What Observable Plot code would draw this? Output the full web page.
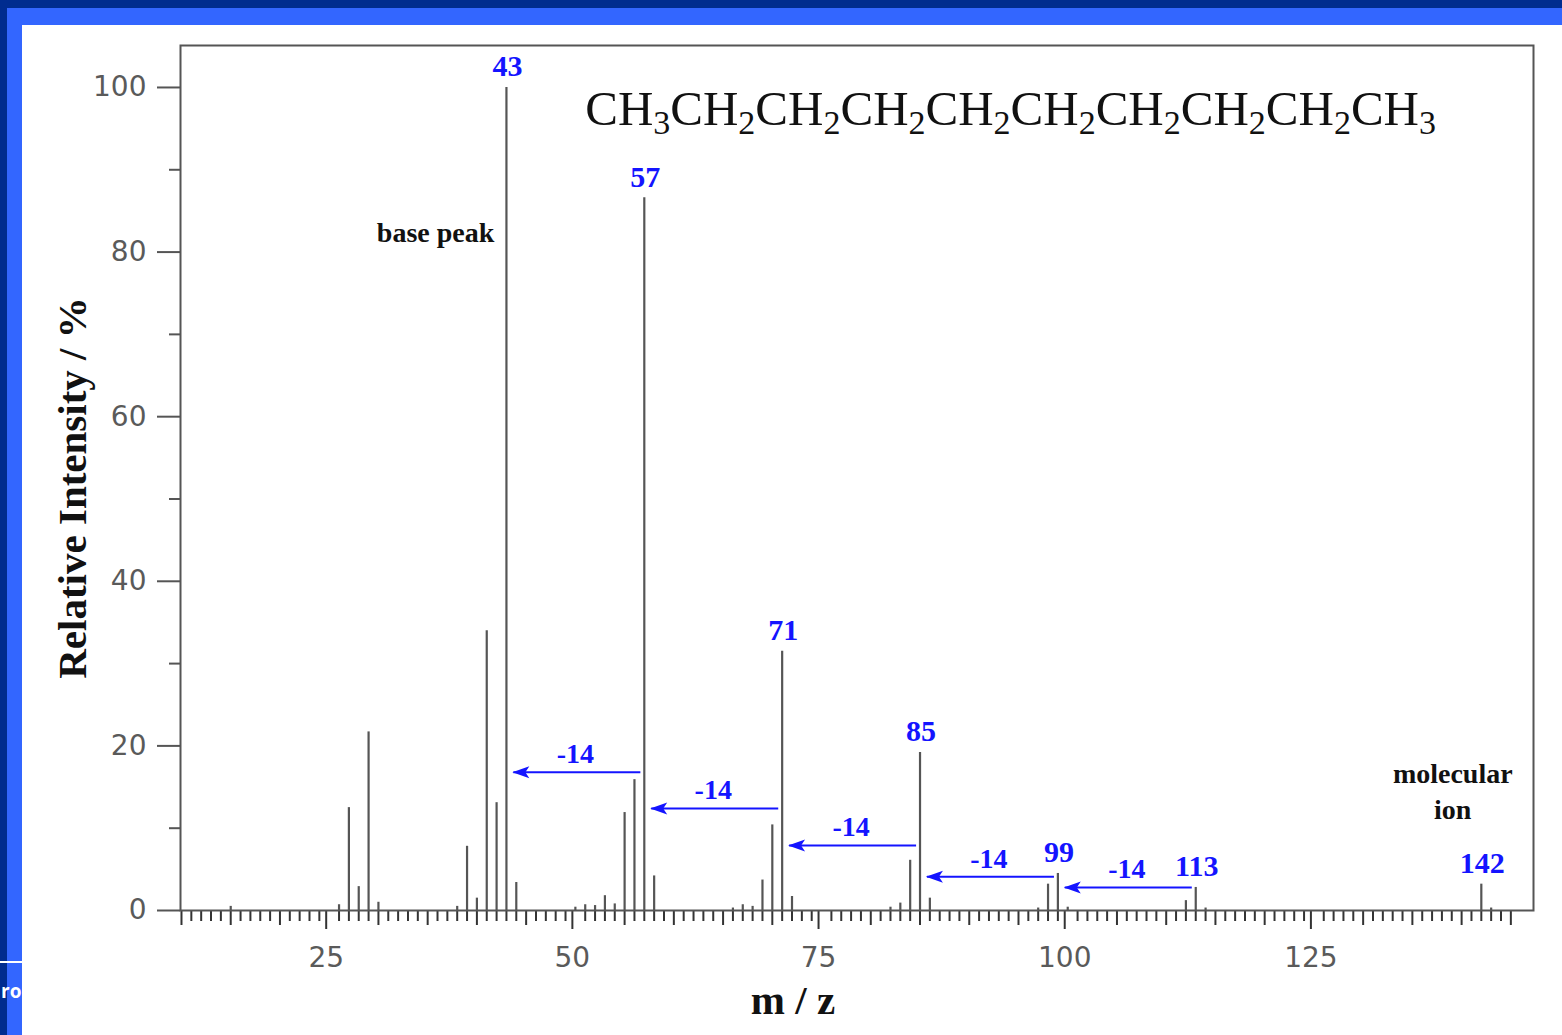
<!DOCTYPE html>
<html>
<head>
<meta charset="utf-8">
<script src="https://cdn.jsdelivr.net/npm/d3@7"></script>
<script src="https://cdn.jsdelivr.net/npm/@observablehq/plot@0.6"></script>
<style>
  html, body { margin: 0; padding: 0; }
  body { width: 1562px; height: 1035px; background: #002c8f; position: relative; overflow: hidden; }
  #band { position: absolute; left: 7px; top: 8px; right: 0; bottom: 0; background: #3366ff; }
  #panel { position: absolute; left: 22px; top: 25px; width: 1540px; height: 1010px; background: #ffffff; }
  #rule { position: absolute; left: 0; top: 961px; width: 22px; height: 2px; background: #ffffff; }
  #frag { position: absolute; left: 1px; top: 978px; font: bold 19px "Open Sans", sans-serif; color: #ffffff; }
</style>
</head>
<body>
<div id="band"></div>
<div id="rule"></div>
<div id="frag">ro</div>
<div id="panel"></div>
<script>
const mz        = [15, 26, 27, 28, 29, 30, 38, 39, 40, 41, 42, 43, 44, 50, 51, 52, 53, 54, 55, 56, 57, 58, 66, 67, 68, 69, 70, 71, 72, 82, 83, 84, 85, 86, 97, 98, 99, 100, 112, 113, 114, 142, 143];
const intensity = [0.5, 0.7, 12.5, 2.9, 21.7, 1.0, 0.5, 7.8, 1.5, 34.0, 13.1, 100, 3.4, 0.4, 0.7, 0.6, 1.8, 0.8, 11.9, 15.9, 86.6, 4.2, 0.3, 0.7, 0.5, 3.7, 10.4, 31.5, 1.7, 0.4, 0.9, 6.1, 19.2, 1.5, 0.3, 3.2, 4.5, 0.4, 1.2, 2.8, 0.3, 3.2, 0.3];

// Labelled peaks
const labelledMz = [43, 57, 71, 85, 99, 113, 142];

// "-14" loss arrows: from peak, to peak, and the intensity level of the arrow
const lossFrom  = [57, 71, 85, 99, 113];
const lossTo    = [43, 57, 71, 85, 99];
const lossLevel = [16.8, 12.4, 7.9, 4.1, 2.8];
const lossText  = "-14";

// Axis ticks
const yMajor = [0, 20, 40, 60, 80, 100];
const yMinor = [10, 30, 50, 70, 90];
const xMajor = [25, 50, 75, 100, 125];

const formula = "CH3CH2CH2CH2CH2CH2CH2CH2CH2CH3";
const yLabel = "Relative Intensity / %";
const xLabel = "m / z";

const peaks = mz.map((m, i) => ({mz: m, I: intensity[i]}));
const labelled = labelledMz.map(m => ({mz: m, I: intensity[mz.indexOf(m)], text: String(m)}));
const losses = lossFrom.map((f, i) => ({from: f, to: lossTo[i], y: lossLevel[i]}));

const xAll = d3.range(10, 146);
const xMid = xAll.filter(v => v % 5 === 0 && v % 25 !== 0);
const xMinor = xAll.filter(v => v % 5 !== 0);

const BLUE = "#1414ff";
const SERIF = "'Liberation Serif', 'DejaVu Serif', serif";

// left-pointing filled arrowhead with tip at origin
const leftHead = {
  draw(ctx) {
    ctx.moveTo(0, 0);
    ctx.lineTo(17, -6);
    ctx.lineTo(13, 0);
    ctx.lineTo(17, 6);
    ctx.closePath();
  }
};

const chart = Plot.plot({
  width: 1540,
  height: 1010,
  marginLeft: 158,
  marginRight: 29,
  marginTop: 20,
  marginBottom: 125,
  style: {background: "#ffffff", overflow: "visible"},
  x: {domain: [9.9, 147.3]},
  y: {domain: [0, 105.1]},
  marks: [
    // y axis
    Plot.axisY(yMajor, {tickSize: 23, tickPadding: 11, stroke: "#555", strokeWidth: 2,
      fontSize: 28, fontFamily: "'DejaVu Sans', sans-serif", fill: "#5a5a5a", label: null}),
    Plot.axisY(yMinor, {tickSize: 11, stroke: "#555", strokeWidth: 2, tickFormat: () => "", label: null}),
    // x axis
    Plot.axisX(xMinor, {tickSize: 11, stroke: "#333", strokeWidth: 2, tickFormat: () => "", label: null}),
    Plot.axisX(xMid, {tickSize: 15, stroke: "#333", strokeWidth: 2, tickFormat: () => "", label: null}),
    Plot.axisX(xMajor, {tickSize: 19, tickPadding: 18, stroke: "#333", strokeWidth: 2, dx: -3,
      fontSize: 28, fontFamily: "'DejaVu Sans', sans-serif", fill: "#5a5a5a", label: null}),
    // peaks
    Plot.ruleX(peaks, {x: "mz", y1: 0, y2: "I", stroke: "#555", strokeWidth: 2.2}),
    // frame
    Plot.frame({stroke: "#555", strokeWidth: 2}),
    // peak labels
    Plot.text(labelled, {x: "mz", y: "I", text: "text", dx: 1, dy: -11, lineAnchor: "bottom",
      fill: BLUE, fontSize: 30, fontWeight: "bold", fontFamily: SERIF}),
    // loss arrows
    Plot.link(losses, {x1: d => d.from - 0.4, x2: d => d.to + 0.7, y1: "y", y2: "y", stroke: BLUE, strokeWidth: 2}),
    Plot.dot(losses, {x: d => d.to + 0.6, y: "y", symbol: leftHead, fill: BLUE, stroke: "none", r: 6}),
    Plot.text(losses, {x: d => (d.from + d.to) / 2, y: "y", text: () => lossText, dy: -9, lineAnchor: "bottom",
      fill: BLUE, fontSize: 28, fontWeight: "bold", fontFamily: SERIF}),
    // annotations
    Plot.text(["base peak"], {x: 35.8, y: 81.2, text: d => d, lineAnchor: "bottom",
      fill: "#111", fontSize: 28, fontWeight: "bold", fontFamily: SERIF}),
    Plot.text(["molecular"], {x: 139.1, y: 15.5, text: d => d, lineAnchor: "bottom",
      fill: "#111", fontSize: 28, fontWeight: "bold", fontFamily: SERIF}),
    Plot.text(["ion"], {x: 139.1, y: 11.1, text: d => d, lineAnchor: "bottom",
      fill: "#111", fontSize: 28, fontWeight: "bold", fontFamily: SERIF}),
    // formula
    Plot.text([formula], {x: 51.0, y: 95.4, text: d => d, textAnchor: "start", lineAnchor: "bottom",
      fill: "#111", fontSize: 49, fontFamily: SERIF, className: "formula"}),
    // axis labels
    Plot.text([yLabel], {frameAnchor: "left", textAnchor: "middle", text: d => d, rotate: -90, dx: -108, dy: 10,
      fill: "#111", fontSize: 41, fontWeight: "bold", fontFamily: SERIF}),
    Plot.text([xLabel], {x: 72.1, frameAnchor: "bottom", text: d => d, dy: 103,
      fill: "#111", fontSize: 41, fontWeight: "bold", fontFamily: SERIF})
  ]
});

document.getElementById("panel").appendChild(chart);

// render subscripts in the formula
chart.querySelectorAll(".formula text, g.formula text").forEach(t => {
  const s = t.textContent;
  t.textContent = "";
  const parts = s.match(/[A-Z]+|\d+/g);
  let sub = false;
  parts.forEach(p => {
    const ts = document.createElementNS("http://www.w3.org/2000/svg", "tspan");
    ts.textContent = p;
    if (/\d/.test(p)) {
      ts.setAttribute("font-size", "34");
      ts.setAttribute("dy", "9");
      sub = true;
    } else if (sub) {
      ts.setAttribute("dy", "-9");
      sub = false;
    }
    t.appendChild(ts);
  });
});
</script>
</body>
</html>
